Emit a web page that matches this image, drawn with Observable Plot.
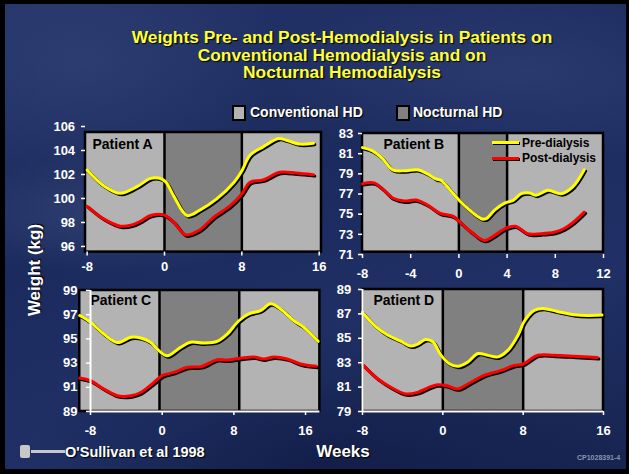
<!DOCTYPE html>
<html><head><meta charset="utf-8">
<script src="https://cdn.jsdelivr.net/npm/d3@7"></script>
<script src="https://cdn.jsdelivr.net/npm/@observablehq/plot@0.6"></script>
<style>
html,body{margin:0;padding:0;background:#000;}
#page{position:relative;width:629px;height:474px;overflow:hidden;background:#000;font-family:"Liberation Sans",Arial,sans-serif;font-weight:bold;}
#bg{position:absolute;left:5px;top:4px;width:621px;height:465px;
background:
 radial-gradient(ellipse 180px 60px at 110px 210px, rgba(110,130,180,0.22), transparent),
 radial-gradient(ellipse 260px 90px at 520px 70px, rgba(90,110,170,0.22), transparent),
 radial-gradient(ellipse 200px 120px at 80px 60px, rgba(90,110,170,0.18), transparent),
 radial-gradient(ellipse 300px 140px at 320px 460px, rgba(8,16,50,0.45), transparent),
 linear-gradient(160deg,#243468 0%,#1c2b5e 40%,#203066 70%,#172450 100%);}
.abs{position:absolute;white-space:nowrap;}
.plot{position:absolute;}
.tl{position:absolute;left:92px;width:500px;text-align:center;color:#ffff3c;font-size:15.8px;line-height:17.6px;height:17.6px;text-shadow:1px 1px 1px #000;white-space:nowrap;transform:scaleX(1.1);transform-origin:50% 50%;}
</style></head><body>
<div id="page"><div id="bg"></div>
<div id="title"></div>
<div id="legend"></div>
<div class="abs" style="left:34.5px;top:270px;transform:translate(-50%,-50%) rotate(-90deg);color:#fff;font-size:17px;text-shadow:1px 1px 1px #000;">Weight (kg)</div>
<div class="abs" style="left:343px;top:452px;transform:translate(-50%,-50%);color:#fff;font-size:17px;text-shadow:1px 1px 1px #000;">Weeks</div>
<div class="abs" style="left:20px;top:445px;width:10px;height:13px;background:#c8c8c8;border-radius:2px;"></div>
<div class="abs" style="left:31px;top:450px;width:34px;height:3px;background:#c8c8c8;"></div>
<div class="abs" style="left:65px;top:452px;transform:translateY(-50%);color:#fff;font-size:14.5px;text-shadow:1px 1px 1px #000;">O'Sullivan et al 1998</div>
<div class="abs" style="left:577px;top:457px;transform:translateY(-50%);color:#8a94b0;font-size:7px;">CP1028391-4</div>
</div>
<script>
// ---------- data ----------
const titleLines = ["Weights Pre- and Post-Hemodialysis in Patients on", "Conventional Hemodialysis and on", "Nocturnal Hemodialysis"];
const periodNames = ["Conventional HD", "Nocturnal HD"];
const periodColors = ["#b3b3b3", "#808080"];
const seriesNames = ["Pre-dialysis", "Post-dialysis"];
const seriesColors = ["#ffff00", "#ff0000"];

// Patient A
const xTicksA = [-8, 0, 8, 16];
const yTicksA = [96, 98, 100, 102, 104, 106];
const periodStartA = [-8.17, 0, 8];
const periodEndA = [0, 8, 16.24];
const periodTypeA = ["Conventional HD", "Nocturnal HD", "Conventional HD"];
const preWeeksA = [-8, -6.3, -4.56, -2.84, -1.44, -0.6, 0.1, 0.96, 2.34, 3.7, 5.4, 7.2, 8.0, 8.85, 10.2, 11.8, 12.6, 14.0, 15.4];
const preKgA = [102.37, 101.07, 100.43, 100.99, 101.68, 101.7, 101.4, 100.2, 98.58, 99.05, 99.96, 101.35, 102.3, 103.6, 104.3, 105.0, 104.86, 104.53, 104.6];
const postWeeksA = [-8, -6.3, -4.56, -3.36, -2.5, -1.44, -0.07, 0.96, 2.17, 3.55, 5.1, 6.8, 8, 8.85, 10.2, 11.9, 13.6, 15.4];
const postKgA = [99.35, 98.3, 97.69, 97.8, 98.1, 98.58, 98.63, 98.02, 96.97, 97.33, 98.44, 99.4, 100.38, 101.35, 101.54, 102.18, 102.12, 101.98];

// Patient B
const xTicksB = [-8, -4, 0, 4, 8, 12];
const yTicksB = [71, 73, 75, 77, 79, 81, 83];
const periodStartB = [-8, 0, 4];
const periodEndB = [0, 4, 12];
const periodTypeB = ["Conventional HD", "Nocturnal HD", "Conventional HD"];
const preWeeksB = [-8, -7.17, -6.34, -5.5, -4.53, -3.43, -2.6, -1.9, -1.5, -0.8, 0, 0.75, 1.86, 2.27, 2.96, 3.8, 4.5, 5.18, 5.87, 6.4, 7.4, 8.5, 9.45, 10.4];
const preKgB = [81.6, 81.27, 80.5, 79.4, 79.3, 79.4, 79.0, 78.5, 78.36, 77.5, 76.4, 75.54, 74.55, 74.55, 75.4, 76.1, 76.37, 77.03, 77.1, 76.87, 77.36, 77.03, 77.7, 79.4];
const postWeeksB = [-8, -7.03, -6.34, -5.5, -4.53, -3.56, -2.6, -1.6, -0.5, 0, 1.0, 2.1, 2.96, 3.8, 4.7, 5.7, 6.8, 7.9, 8.7, 9.5, 10.4];
const postKgB = [78.03, 78.1, 77.5, 76.6, 76.3, 76.4, 75.9, 75.1, 74.8, 74.3, 73.25, 72.4, 72.9, 73.55, 73.8, 73.06, 73.06, 73.2, 73.55, 74.2, 75.2];

// Patient C
const xTicksC = [-8, 0, 8, 16];
const yTicksC = [89, 91, 93, 95, 97, 99];
const periodStartC = [-9.2, -0.3, 8.6];
const periodEndC = [-0.3, 8.6, 17.6];
const periodTypeC = ["Conventional HD", "Nocturnal HD", "Conventional HD"];
const preWeeksC = [-9.2, -8, -6.5, -5.0, -3.5, -2.4, -1.3, -0.37, 0.56, 2.05, 3.16, 4.65, 6.14, 7.26, 8.56, 9.67, 10.98, 12.1, 13.2, 14.7, 15.8, 17.4];
const preKgC = [96.93, 96.38, 95.4, 94.7, 95.13, 95.08, 94.72, 94.03, 93.6, 94.3, 94.72, 94.66, 94.8, 95.4, 96.5, 97.07, 97.34, 97.9, 97.48, 96.5, 95.96, 94.8];
const postWeeksC = [-9.2, -8, -6.5, -5.0, -3.5, -2.4, -0.93, 0, 1.3, 2.8, 4.3, 6.14, 7.26, 8.74, 10.23, 11.35, 12.47, 13.95, 15.44, 17.2];
const postKgC = [91.76, 91.54, 90.85, 90.3, 90.3, 90.57, 91.4, 91.96, 92.23, 92.65, 92.7, 93.28, 93.25, 93.4, 93.5, 93.34, 93.5, 93.34, 92.92, 92.73];

// Patient D
const xTicksD = [-8, 0, 8, 16];
const yTicksD = [79, 81, 83, 85, 87, 89];
const periodStartD = [-8, 0, 8];
const periodEndD = [0, 8, 16];
const periodTypeD = ["Conventional HD", "Nocturnal HD", "Conventional HD"];
const preWeeksD = [-8, -6.67, -5.5, -4.2, -3.18, -2.5, -1.7, -1.0, -0.17, 0.66, 1.5, 2.5, 3.5, 4.5, 5.5, 6.5, 7.5, 8.1, 9.1, 9.94, 11.4, 13.1, 14.4, 15.85];
const preKgD = [87.12, 85.96, 85.27, 84.77, 84.36, 84.53, 84.9, 84.72, 83.6, 82.92, 82.7, 83.06, 83.75, 83.6, 83.48, 84.03, 85.27, 86.38, 87.29, 87.45, 87.2, 86.93, 86.87, 86.9];
const postWeeksD = [-8, -6.5, -5.2, -3.7, -2.5, -1.5, -0.66, 0.33, 1.5, 2.8, 4.1, 5.8, 7.1, 7.95, 9.45, 11.1, 13.1, 15.4];
const postKgD = [82.84, 81.68, 80.99, 80.44, 80.57, 80.93, 81.18, 81.13, 80.85, 81.4, 81.96, 82.37, 82.78, 82.87, 83.61, 83.61, 83.53, 83.42];

// ---------- layout (pixels) ----------
const font = "'Liberation Sans', Arial, sans-serif";
const toRows = (w, k) => w.map((x, i) => ({week: x, kg: k[i]}));
const toPeriods = (s, e, t) => s.map((x, i) => ({start: x, end: e[i], type: t[i]}));

const panels = [
  {name: "Patient A", xDomain: [-8.17, 16.24], yDomain: [95.53, 106], frameY: [95.53, 105.5],
   xTicks: xTicksA, yTicks: yTicksA, periods: toPeriods(periodStartA, periodEndA, periodTypeA),
   pre: toRows(preWeeksA, preKgA), post: toRows(postWeeksA, postKgA),
   box: {left: 85.4, right: 321.4, top: 126, bottom: 251.6}, label: [7, 13], axisLine: false, xPad: 6, yPad: 6.4},
  {name: "Patient B", xDomain: [-8, 12], yDomain: [71, 83], frameY: [71.23, 83],
   xTicks: xTicksB, yTicks: yTicksB, periods: toPeriods(periodStartB, periodEndB, periodTypeB),
   pre: toRows(preWeeksB, preKgB), post: toRows(postWeeksB, postKgB),
   box: {left: 362, right: 603, top: 133, bottom: 254}, label: [21, 6], axisLine: false, xPad: 10, yPad: 5.3},
  {name: "Patient C", xDomain: [-8, 17.6], yDomain: [89, 99], frameY: [89, 99],
   xTicks: xTicksC, yTicks: yTicksC, periods: toPeriods(periodStartC, periodEndC, periodTypeC),
   pre: toRows(preWeeksC, preKgC), post: toRows(postWeeksC, postKgC),
   box: {left: 90, right: 319.4, top: 290, bottom: 411}, label: [0, 5], axisLine: true, xPad: 10.5, yPad: 9},
  {name: "Patient D", xDomain: [-8, 16], yDomain: [79, 89], frameY: [79, 89],
   xTicks: xTicksD, yTicks: yTicksD, periods: toPeriods(periodStartD, periodEndD, periodTypeD),
   pre: toRows(preWeeksD, preKgD), post: toRows(postWeeksD, postKgD),
   box: {left: 362, right: 603, top: 289, bottom: 411}, label: [11, 6], axisLine: true, xPad: 10, yPad: 7.3}
];

const page = document.getElementById("page");
const titleEl = document.getElementById("title");
titleLines.forEach((line, i) => {
  const d = document.createElement("div");
  d.className = "tl";
  d.style.top = (29.2 + i * 17.6) + "px";
  d.textContent = line;
  titleEl.appendChild(d);
});

const M = {l: 50, r: 14, t: 12, b: 30};
for (const p of panels) {
  const W = p.box.right - p.box.left, H = p.box.bottom - p.box.top;
  const x1 = p.periods[0].start, x2 = p.periods[p.periods.length - 1].end;
  const lineOpts = (data, color) => [
    Plot.line(data, {x: "week", y: "kg", stroke: "#000", strokeWidth: 3.2, dx: 1.3, dy: 1.3, curve: "catmull-rom", strokeLinejoin: "round", strokeLinecap: "round"}),
    Plot.line(data, {x: "week", y: "kg", stroke: color, strokeWidth: 3, curve: "catmull-rom", strokeLinejoin: "round", strokeLinecap: "round"})
  ];
  const marks = [
    Plot.rect(p.periods, {x1: "start", x2: "end", y1: () => p.frameY[0], y2: () => p.frameY[1], fill: "type"}),
    Plot.ruleX(p.periods.slice(1), {x: "start", y1: () => p.frameY[0], y2: () => p.frameY[1], stroke: "#000", strokeWidth: 2.5}),
    Plot.rect([p.name], {x1: () => x1, x2: () => x2, y1: () => p.frameY[0], y2: () => p.frameY[1], fill: "none", stroke: "#000", strokeWidth: 2.5}),
    Plot.text([p.name], {frameAnchor: "top-left", dx: p.label[0], dy: p.label[1], lineAnchor: "top", textAnchor: "start", fill: "#000", fontSize: 14, fontWeight: "bold"}),
    ...lineOpts(p.pre, seriesColors[0]),
    ...lineOpts(p.post, seriesColors[1]),
    Plot.axisX({ticks: p.xTicks, label: null, tickSize: 4, tickPadding: p.xPad, tickFormat: d => String(d), stroke: "#fff", strokeWidth: 1.5}),
    Plot.axisY({ticks: p.yTicks, label: null, tickSize: 4, tickPadding: p.yPad, tickFormat: d => String(d), stroke: "#fff", strokeWidth: 1.5})
  ];
  if (p.axisLine) {
    marks.push(Plot.ruleX([p.xDomain[0]], {y1: () => p.yDomain[0], y2: () => p.yDomain[1], stroke: "#fff", strokeWidth: 2}));
    marks.push(Plot.ruleY([p.yDomain[0]], {x1: () => p.xDomain[0], x2: () => p.xDomain[1], stroke: "#fff", strokeWidth: 2}));
  }
  const chart = Plot.plot({
    width: W + M.l + M.r, height: H + M.t + M.b,
    marginLeft: M.l, marginRight: M.r, marginTop: M.t, marginBottom: M.b,
    x: {domain: p.xDomain, label: null}, y: {domain: p.yDomain, label: null},
    color: {domain: periodNames, range: periodColors},
    style: {background: "transparent", overflow: "visible", color: "#fff", fontFamily: font, fontSize: "13px", fontWeight: "bold"},
    marks
  });
  chart.classList.add("plot");
  chart.style.left = (p.box.left - M.l) + "px";
  chart.style.top = (p.box.top - M.t) + "px";
  page.appendChild(chart);
}

// top legend (periods)
const legend = document.getElementById("legend");
const topLegend = [{x: 232, tx: 250}, {x: 396, tx: 413}];
periodNames.forEach((n, i) => {
  const b = document.createElement("div");
  b.className = "abs";
  Object.assign(b.style, {left: topLegend[i].x + "px", top: "105px", width: "10px", height: "12px", background: periodColors[i], border: "2px solid #000"});
  legend.appendChild(b);
  const t = document.createElement("div");
  t.className = "abs";
  t.textContent = n;
  Object.assign(t.style, {left: topLegend[i].tx + "px", top: "112px", transform: "translateY(-50%)", color: "#fff", fontSize: "14px", textShadow: "1px 1px 1px #000"});
  legend.appendChild(t);
});
// series legend inside Patient B
const serLegend = [142.5, 158];
seriesNames.forEach((n, i) => {
  const sh = document.createElement("div");
  sh.className = "abs";
  Object.assign(sh.style, {left: "493px", top: (serLegend[i] - 0.2) + "px", width: "27px", height: "3px", background: "#000"});
  page.appendChild(sh);
  const s = document.createElement("div");
  s.className = "abs";
  Object.assign(s.style, {left: "492px", top: (serLegend[i] - 1.5) + "px", width: "27px", height: "3px", background: seriesColors[i]});
  page.appendChild(s);
  const t = document.createElement("div");
  t.className = "abs";
  t.textContent = n;
  Object.assign(t.style, {left: "522px", top: serLegend[i] + "px", transform: "translateY(-50%)", color: "#000", fontSize: "12px"});
  page.appendChild(t);
});
</script>
</body></html>
